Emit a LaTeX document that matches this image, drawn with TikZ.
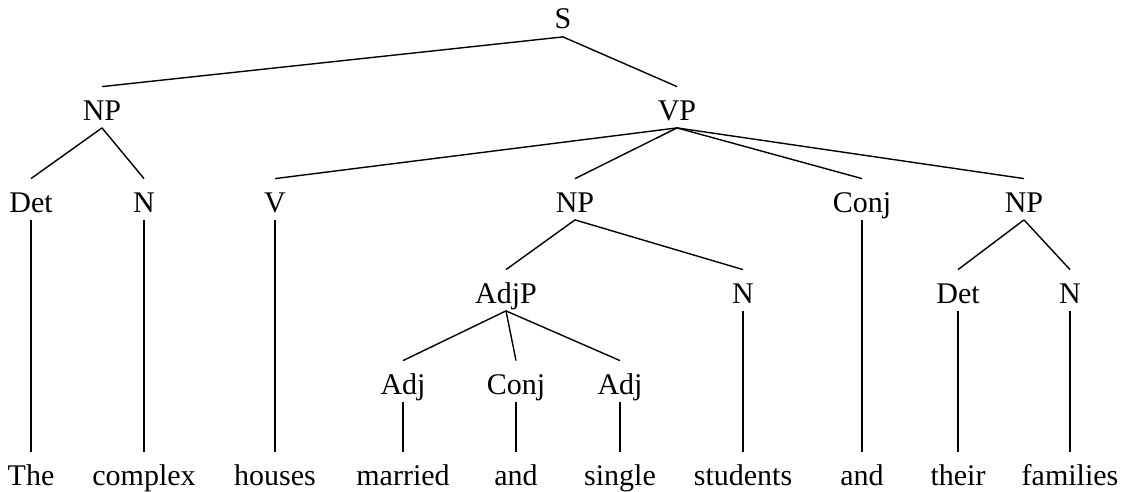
\documentclass[tikz,border=0pt]{standalone}
\usepackage{fontspec}
\setmainfont{Liberation Serif}
\newcommand\tbranch[2]{\draw[edge] (#1.south) -- ([yshift=2.75pt]#2.north);}
\begin{document}
\begin{tikzpicture}[x=0.5pt,y=-0.5pt,
  lab/.style={anchor=base,font=\fontsize{15}{18}\selectfont,text height=10pt,text depth=0pt,inner xsep=0pt,inner ysep=3.75pt},
  edge/.style={line width=0.7pt,black}]
\useasboundingbox (0,0) rectangle (1124,492);
% level 0
\node[lab] (s) at (563,29) {S};
% level 1
\node[lab] (np1) at (102,120) {NP};
\node[lab] (vp) at (677,120) {VP};
% level 2
\node[lab] (det1) at (31,212) {Det};
\node[lab] (n1) at (144,212) {N};
\node[lab] (v) at (275,212) {V};
\node[lab] (np2) at (575,212) {NP};
\node[lab] (conj1) at (862,212) {Conj};
\node[lab] (np3) at (1024,212) {NP};
% level 3
\node[lab] (adjp) at (506,303) {AdjP};
\node[lab] (n2) at (743,303) {N};
\node[lab] (det2) at (958,303) {Det};
\node[lab] (n3) at (1070,303) {N};
% level 4
\node[lab] (adj1) at (403,394) {Adj};
\node[lab] (conj2) at (516,394) {Conj};
\node[lab] (adj2) at (620,394) {Adj};
% words
\node[lab] (w1) at (31,485) {The};
\node[lab] (w2) at (144,485) {complex};
\node[lab] (w3) at (275,485) {houses};
\node[lab] (w4) at (403,485) {married};
\node[lab] (w5) at (516,485) {and};
\node[lab] (w6) at (620,485) {single};
\node[lab] (w7) at (743,485) {students};
\node[lab] (w8) at (862,485) {and};
\node[lab] (w9) at (958,485) {their};
\node[lab] (w10) at (1070,485) {families};
% branches
\tbranch{s}{np1}
\tbranch{s}{vp}
\tbranch{np1}{det1}
\tbranch{np1}{n1}
\tbranch{vp}{v}
\tbranch{vp}{np2}
\tbranch{vp}{conj1}
\tbranch{vp}{np3}
\tbranch{np2}{adjp}
\tbranch{np2}{n2}
\tbranch{np3}{det2}
\tbranch{np3}{n3}
\tbranch{adjp}{adj1}
\tbranch{adjp}{conj2}
\tbranch{adjp}{adj2}
\tbranch{det1}{w1}
\tbranch{n1}{w2}
\tbranch{v}{w3}
\tbranch{adj1}{w4}
\tbranch{conj2}{w5}
\tbranch{adj2}{w6}
\tbranch{n2}{w7}
\tbranch{conj1}{w8}
\tbranch{det2}{w9}
\tbranch{n3}{w10}
\end{tikzpicture}
\end{document}
